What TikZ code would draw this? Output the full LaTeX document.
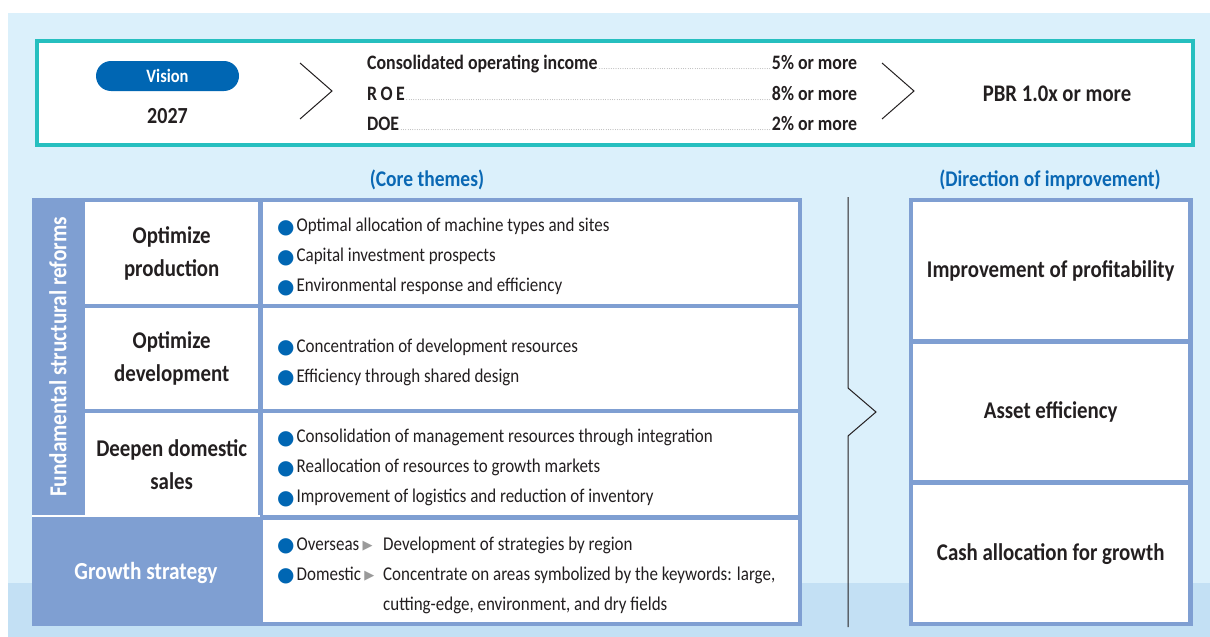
\documentclass[tikz,border=0pt]{standalone}
\usepackage{fontspec}
\setmainfont{Carlito}[FakeStretch=0.87]
\newfontfamily\symfont{DejaVu Sans}
\definecolor{bgblue}{HTML}{DBF0FB}
\definecolor{bandblue}{HTML}{C3E0F4}
\definecolor{teal}{HTML}{26BFBF}
\definecolor{pillblue}{HTML}{0066B3}
\definecolor{headblue}{HTML}{0A68B4}
\definecolor{tblue}{HTML}{7F9FD2}
\definecolor{txt}{HTML}{231F20}
\definecolor{dotgray}{HTML}{7A7A7A}
\definecolor{trigray}{HTML}{9A9A9A}
\newcommand\dotlead{\hspace{1pt}\xleaders\hbox to 2.3pt{\hss\textcolor{dotgray}{\normalfont\fontsize{7}{7}\selectfont.}\hss}\hfill\hspace{1pt}}
\newcommand\bul{\raisebox{-1.2pt}{\symfont\fontsize{20}{20}\selectfont\textcolor{pillblue}{●}}\hspace{2pt}}
\newcommand\tri{\raisebox{0.5pt}{\symfont\fontsize{13}{13}\selectfont\textcolor{trigray}{▶}}}
\begin{document}
\begin{tikzpicture}[x=1pt,y=-1pt,
  cell/.style={fill=white, inner sep=0pt, anchor=north west},
  title/.style={font=\bfseries\fontsize{24}{33}\selectfont, align=center, text=txt},
  body/.style={font=\fontsize{19.5}{30}\selectfont, align=left, anchor=west, text=txt, inner sep=0pt},
  metric/.style={font=\bfseries\fontsize{20.5}{22}\selectfont, anchor=west, text=txt, inner sep=0pt},
  head/.style={font=\bfseries\fontsize{22.4}{24}\selectfont, text=headblue},
  chev/.style={line width=1pt, txt},
  dir/.style={font=\bfseries\fontsize{24}{26}\selectfont, text=txt}]
\useasboundingbox (0,0) rectangle (1210,637);
\fill[white] (0,0) rectangle (1210,637);
\fill[bgblue] (8,13) rectangle (1210,637);
\fill[bandblue] (8,583) rectangle (1210,637);
% top box
\node[draw=teal, line width=4pt, fill=white, anchor=north west, minimum width=1156pt, minimum height=104pt, inner sep=0pt] (topbox) at (35,39) {};
\node[fill=pillblue, rounded corners=15pt, minimum width=143pt, minimum height=30pt, inner sep=0pt, text=white, font=\bfseries\fontsize{18.9}{20}\selectfont] (vision) at (167.5,76) {Vision};
\node[font=\bfseries\fontsize{23}{24}\selectfont, text=txt] (year) at (167.5,116) {2027};
\coordinate (ch1a) at (300,63); \coordinate (ch1b) at (332,91); \coordinate (ch1c) at (300,119);
\draw[chev] (ch1a) -- (ch1b) -- (ch1c);
\node[metric] (m1) at (367,64) {\makebox[490pt]{Consolidated operating income\dotlead 5\% or more}};
\node[metric] (m2) at (367,94) {\makebox[490pt]{R\,O\,E\dotlead 8\% or more}};
\node[metric] (m3) at (367,124) {\makebox[490pt]{DOE\dotlead 2\% or more}};
\coordinate (ch2a) at (882,63); \coordinate (ch2b) at (914,91); \coordinate (ch2c) at (882,119);
\draw[chev] (ch2a) -- (ch2b) -- (ch2c);
\node[font=\bfseries\fontsize{23.8}{26}\selectfont, text=txt] (pbr) at (1057,94) {PBR 1.0x or more};
% headings
\node[head] (core) at (427,180) {(Core themes)};
\node[head] (dirh) at (1050,180) {(Direction of improvement)};
% left table
\fill[tblue] (32,198) rectangle (802,626);
\node[cell, minimum width=173pt, minimum height=102pt] (c1) at (85,202) {};
\node[cell, minimum width=535pt, minimum height=102pt] (d1) at (263,202) {};
\node[cell, minimum width=173pt, minimum height=101pt] (c2) at (85,308) {};
\node[cell, minimum width=535pt, minimum height=101pt] (d2) at (263,308) {};
\node[cell, minimum width=173pt, minimum height=102pt] (c3) at (85,413) {};
\node[cell, minimum width=535pt, minimum height=102pt] (d3) at (263,413) {};
\node[cell, minimum width=535pt, minimum height=102pt] (d4) at (263,520) {};
\fill[white] (32,515) rectangle (260,517);
\node[title] (t1) at (c1.center) {Optimize\\production};
\node[title] (t2) at (c2.center) {Optimize\\development};
\node[title] (t3) at (c3.center) {Deepen domestic\\sales};
\node[font=\bfseries\fontsize{24.5}{26}\selectfont, text=white] (grow) at (146,573) {Growth strategy};
\node[rotate=90, font=\bfseries\fontsize{24.4}{26}\selectfont, text=white] (fsr) at (58,357) {Fundamental structural reforms};
\node[body] (b1) at (277,257) {\bul Optimal allocation of machine types and sites\\\bul Capital investment prospects\\\bul Environmental response and efficiency};
\node[body] (b2) at (277,362.5) {\bul Concentration of development resources\\\bul Efficiency through shared design};
\node[body] (b3) at (277,468) {\bul Consolidation of management resources through integration\\\bul Reallocation of resources to growth markets\\\bul Improvement of logistics and reduction of inventory};
\node[body] (b4) at (277,575) {\makebox[106pt][l]{\bul Overseas\,\tri}Development of strategies by region\\\makebox[106pt][l]{\bul Domestic\,\tri}Concentrate on areas symbolized by the keywords: large,\\\hspace*{106pt}cutting-edge, environment, and dry fields};
% brace
\coordinate (br1) at (848,197); \coordinate (br2) at (848,388); \coordinate (br3) at (876,412);
\coordinate (br4) at (848,436); \coordinate (br5) at (848,627);
\draw[chev] (br1) -- (br2) -- (br3) -- (br4) -- (br5);
% right column
\fill[tblue] (909,198) rectangle (1193,626);
\node[cell, minimum width=275pt, minimum height=137pt] (r1) at (913,202) {};
\node[cell, minimum width=275pt, minimum height=136pt] (r2) at (913,344) {};
\node[cell, minimum width=275pt, minimum height=137pt] (r3) at (913,485) {};
\node[dir] (r1t) at (r1.center) {Improvement of profitability};
\node[dir] (r2t) at (r2.center) {Asset efficiency};
\node[dir] (r3t) at (r3.center) {Cash allocation for growth};
\end{tikzpicture}
\end{document}
